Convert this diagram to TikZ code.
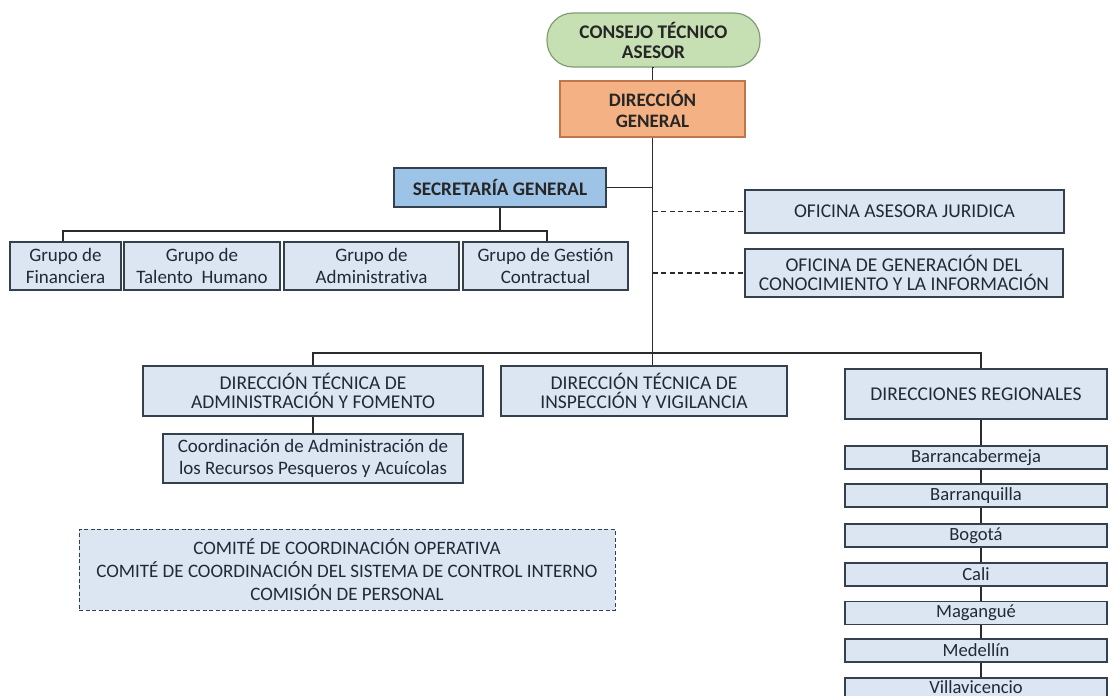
\documentclass[tikz,border=0pt]{standalone}
\usepackage{fontspec}
\setmainfont[Ligatures=NoCommon]{Carlito}
\usetikzlibrary{calc}
\definecolor{lblue}{HTML}{DCE6F2}
\definecolor{sgblue}{HTML}{9DC3E6}
\definecolor{lgreen}{HTML}{C6E0B4}
\definecolor{greenb}{HTML}{7F9F6F}
\definecolor{orng}{HTML}{F4B183}
\definecolor{orngb}{HTML}{C0764A}
\definecolor{bordc}{HTML}{34404C}
\definecolor{txtc}{HTML}{1F2A36}
\definecolor{linec}{HTML}{2B2B2B}
\tikzset{
  sz/.style 2 args={minimum width=#1, minimum height=#2},
  base/.style={draw=bordc, line width=1.2pt, text=txtc, align=center, inner sep=0pt},
  lbox/.style={base, fill=lblue, font=\fontsize{19.5}{19.5}\selectfont},
  grp/.style={base, fill=lblue, font=\fontsize{19}{22.7}\selectfont},
  reg/.style={base, fill=lblue, font=\fontsize{18.6}{19}\selectfont},
  conn/.style={draw=linec, line width=1.2pt},
  dconn/.style={conn, dash pattern=on 5pt off 3.5pt},
}
\begin{document}
\begin{tikzpicture}[x=1pt,y=-1pt]
\useasboundingbox (0,0) rectangle (1111,696);
% top
\node[base, fill=lgreen, draw=greenb, rounded corners=26pt, sz={213}{54},
      font=\bfseries\fontsize{19.3}{20}\selectfont, text=black!85] (consejo) at (653.5,40) {CONSEJO TÉCNICO\\ASESOR};
\node[base, fill=orng, draw=orngb, sz={185}{56},
      font=\bfseries\fontsize{19}{21.7}\selectfont, text=black!85] (dg) at (652.5,109) {DIRECCIÓN\\GENERAL};
\node[base, fill=sgblue, sz={212}{39},
      font=\bfseries\fontsize{19.2}{20}\selectfont, text=black!85] (sg) at (500,187.5) {SECRETARÍA GENERAL};
% groups
\node[grp, sz={111}{48}] (g1) at (65.5,266) {Grupo de\\Financiera};
\node[grp, sz={156}{48}] (g2) at (202,266) {Grupo de\\Talento\ \ Humano};
\node[grp, sz={175}{48}] (g3) at (371.5,266) {Grupo de\\Administrativa};
\node[grp, sz={165}{48}] (g4) at (545.5,266) {Grupo de Gestión\\Contractual};
% oficinas
\node[lbox, sz={319}{43}] (oaj) at (904.5,211.5) {OFICINA ASESORA JURIDICA};
\node[lbox, sz={318}{48}] (ogc) at (904,273) {OFICINA DE GENERACIÓN DEL\\CONOCIMIENTO Y LA INFORMACIÓN};
% direcciones
\node[lbox, sz={340}{50}] (dtaf) at (313,391) {DIRECCIÓN TÉCNICA DE\\ADMINISTRACIÓN Y FOMENTO};
\node[lbox, sz={286}{50}] (dtiv) at (644,391) {DIRECCIÓN TÉCNICA DE\\INSPECCIÓN Y VIGILANCIA};
\node[lbox, sz={262}{50}] (dr) at (976,394) {DIRECCIONES REGIONALES};
\node[base, fill=lblue, sz={300}{49}, font=\fontsize{19}{21.7}\selectfont] (coord) at (313,458.5)
  {Coordinación de Administración de\\los Recursos Pesqueros y Acuícolas};
% regionales
\node[reg, sz={262}{23}] (r1) at (976,457.5) {Barrancabermeja};
\node[reg, sz={262}{23}] (r2) at (976,495.5) {Barranquilla};
\node[reg, sz={262}{23}] (r3) at (976,535.5) {Bogotá};
\node[reg, sz={262}{23}] (r4) at (976,574.5) {Cali};
\node[reg, sz={262}{23}] (r5) at (976,613) {Magangué};
\node[reg, sz={262}{23}] (r6) at (976,650.5) {Medellín};
\node[reg, sz={262}{19}] (r7) at (976,687.5) {Villavicencio};
% comites
\node[lbox, dash pattern=on 4pt off 2.5pt, line width=1pt, sz={536}{81}, font=\fontsize{19}{23}\selectfont] (comite) at (347,569.5)
  {COMITÉ DE COORDINACIÓN OPERATIVA\\COMITÉ DE COORDINACIÓN DEL SISTEMA DE CONTROL INTERNO\\COMISIÓN DE PERSONAL};
% connectors
\coordinate (gl) at (63,231);
\coordinate (gr) at (547,231);
\coordinate (hl) at (313,353);
\coordinate (hr) at (981,353);
\draw[conn] (consejo.south) -- (dg.south |- consejo.south) -- (dg.north -| dg.south);
\draw[conn] (dg.south) -- (dg.south |- dtiv.north);
\draw[conn] (sg.east) -- (sg.east -| dg.south);
\draw[conn] (sg.south) -- (sg.south |- gl);
\draw[conn] (gl |- g1.north) -- (gl) -- (gr) -- (gr |- g4.north);
\draw[dconn] (oaj.west -| dg.south) -- (oaj.west);
\draw[dconn] (ogc.west -| dg.south) -- (ogc.west);
\draw[conn] (hl |- dtaf.north) -- (hl) -- (hr) -- (hr |- dr.north);
\draw[conn] (dtaf.south) -- (coord.north);
\draw[conn] (hr |- dr.south) -- (hr |- r1.north);
\draw[conn] (hr |- r1.south) -- (hr |- r2.north);
\draw[conn] (hr |- r2.south) -- (hr |- r3.north);
\draw[conn] (hr |- r3.south) -- (hr |- r4.north);
\draw[conn] (hr |- r4.south) -- (hr |- r5.north);
\draw[conn] (hr |- r5.south) -- (hr |- r6.north);
\draw[conn] (hr |- r6.south) -- (hr |- r7.north);
\end{tikzpicture}
\end{document}
